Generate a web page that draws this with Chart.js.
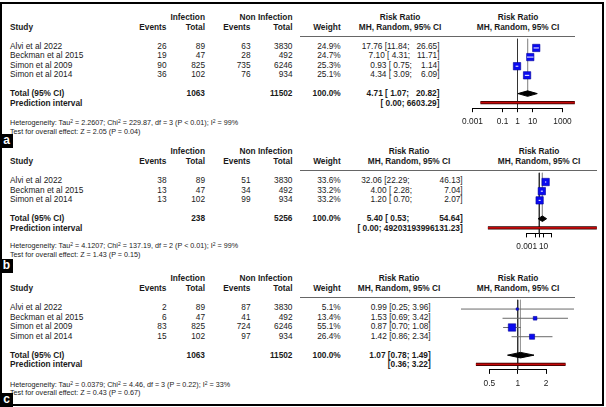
<!DOCTYPE html>
<html>
<head>
<meta charset="utf-8">
<script src="https://cdn.jsdelivr.net/npm/chart.js@4.4.1/dist/chart.umd.min.js"></script>
<style>
  html, body { margin: 0; padding: 0; background: #fff; }
  #page { position: relative; width: 606px; height: 407px; overflow: hidden;
          font-family: "Liberation Sans", Arial, sans-serif; color: #1a1a1a; }
  .t { position: absolute; white-space: pre; font-size: 8.3px; line-height: 10px; }
  .b { font-weight: bold; }
  .s { font-size: 7.2px; line-height: 8px; }
  .t sup { font-size: 5px; position: relative; top: -2px; vertical-align: baseline; line-height: 0; }
  .lab { position: absolute; left: 0; width: 13px; height: 14px; background: #000; color: #fff;
         font: bold 12px "Liberation Sans", Arial, sans-serif; text-align: center; line-height: 13px; }
  .frame { position: absolute; left: 0; top: 2px; width: 604px; height: 404px;
           border: 2px solid #000; box-sizing: border-box; }
  .hline { position: absolute; height: 1px; background: #666; }
</style>
</head>
<body>
<div id="page"><div class="frame"></div></div>
<script>
// panel a
const studyA = ["Alvi et al 2022", "Beckman et al 2015", "Simon et al 2009", "Simon et al 2014"];
const evInfA = [26, 19, 90, 36];
const totInfA = [89, 47, 825, 102];
const evNonA = [63, 28, 735, 76];
const totNonA = [3830, 492, 6246, 934];
const weightA = [24.9, 24.7, 25.3, 25.1];
const rrA = [17.76, 7.10, 0.93, 4.34];
const loA = [11.84, 4.31, 0.75, 3.09];
const hiA = [26.65, 11.71, 1.14, 6.09];
const pooledA = [4.71, 1.07, 20.82];   // estimate, lower, upper
const predA = [0.0034, 6603.29];
const sumTotA = [1063, 11502];
const hetA = [2.2607, 229.87, 3, "< 0.01", 99];  // tau2, chi2, df, p, I2
const testA = [2.05, "0.04"];
const ticksA = [0.001, 0.1, 1, 10, 1000];
const tickLabA = ["0.001", "0.1", "1", "10", "1000"];

// panel b
const studyB = ["Alvi et al 2022", "Beckman et al 2015", "Simon et al 2014"];
const evInfB = [38, 13, 13];
const totInfB = [89, 47, 102];
const evNonB = [51, 34, 99];
const totNonB = [3830, 492, 934];
const weightB = [33.6, 33.2, 33.2];
const rrB = [32.06, 4.00, 1.20];
const loB = [22.29, 2.28, 0.70];
const hiB = [46.13, 7.04, 2.07];
const pooledB = [5.40, 0.53, 54.64];
const predB = [5.8e-13, 49203193996131.23];
const sumTotB = [238, 5256];
const hetB = [4.1207, 137.19, 2, "< 0.01", 99];
const testB = [1.43, "0.15"];
const ticksB = [0.001, 0.1, 1, 10, 1000];
const tickLabB = ["0.001", "", "", "10", ""];

// panel c
const studyC = ["Alvi et al 2022", "Beckman et al 2015", "Simon et al 2009", "Simon et al 2014"];
const evInfC = [2, 6, 83, 15];
const totInfC = [89, 47, 825, 102];
const evNonC = [87, 41, 724, 97];
const totNonC = [3830, 492, 6246, 934];
const weightC = [5.1, 13.4, 55.1, 26.4];
const rrC = [0.99, 1.53, 0.87, 1.42];
const loC = [0.25, 0.69, 0.70, 0.86];
const hiC = [3.96, 3.42, 1.08, 2.34];
const pooledC = [1.07, 0.78, 1.49];
const predC = [0.36, 3.22];
const sumTotC = [1063, 11502];
const hetC = [0.0379, 4.46, 3, "= 0.22", 33];
const testC = [0.43, "0.67"];
const ticksC = [0.5, 1, 2];
const tickLabC = ["0.5", "1", "2"];

const page = document.getElementById("page");
const ROW = 9.5;
const FONT = '"Liberation Sans", Arial, sans-serif';

function txt(x, y, s, align, cls, html) {
  const d = document.createElement("div");
  d.className = "t " + (cls || "");
  if (html) d.innerHTML = s; else d.textContent = s;
  const tx = align === "right" ? "-100%" : align === "center" ? "-50%" : "0";
  d.style.left = x + "px";
  d.style.top = y + "px";
  d.style.transform = "translate(" + tx + ", -50%)";
  page.appendChild(d);
}

function pad(s, w) { return s.padStart(w, " "); }

function panel(p) {
  const n = p.study.length;
  const H = p.H;
  const f2 = v => v.toFixed(2);
  const wE = Math.max(...p.rr.concat(p.pooled[0]).map(v => f2(v).length));
  const wL = Math.max(...p.lo.concat(p.pooled[1], p.pred[0]).map(v => f2(v).length));
  const wH = Math.max(...p.hi.concat(p.pooled[2], p.pred[1]).map(v => f2(v).length));
  const ci = (e, l, h) => pad(f2(e), wE) + " [" + pad(f2(l), wL) + "; " + pad(f2(h), wH) + "]";

  // header
  txt(205, H - 19.5, "Infection", "right", "b");
  txt(292.5, H - 19.5, "Non Infection", "right", "b");
  txt(10, H - 9.5, "Study", "left", "b");
  txt(166.5, H - 9.5, "Events", "right", "b");
  txt(205, H - 9.5, "Total", "right", "b");
  txt(250.5, H - 9.5, "Events", "right", "b");
  txt(292.5, H - 9.5, "Total", "right", "b");
  txt(340.7, H - 9.5, "Weight", "right", "b");
  txt(p.rrC, H - 19.5, "Risk Ratio", "center", "b");
  txt(p.rrC, H - 9.5, "MH, Random, 95% CI", "center", "b");
  txt(p.plotC, H - 19.5, "Risk Ratio", "center", "b");
  txt(p.plotC, H - 9.5, "MH, Random, 95% CI", "center", "b");

  const hl = document.createElement("div");
  hl.className = "hline";
  hl.style.cssText += "left:" + p.lineL + "px;top:" + (H - 0.5) + "px;width:" + (p.lineR - p.lineL) + "px;";
  page.appendChild(hl);

  // study rows
  p.study.forEach((s, i) => {
    const y = H + ROW * (i + 1);
    txt(10, y, s, "left");
    txt(166.5, y, String(p.evInf[i]), "right");
    txt(205, y, String(p.totInf[i]), "right");
    txt(250.5, y, String(p.evNon[i]), "right");
    txt(292.5, y, String(p.totNon[i]), "right");
    txt(340.7, y, p.weight[i].toFixed(1) + "%", "right");
    txt(p.rrR, y, ci(p.rr[i], p.lo[i], p.hi[i]), "right");
  });

  const yT = H + ROW * (n + 2);
  txt(10, yT, "Total (95% CI)", "left", "b");
  txt(205, yT, String(p.sumTot[0]), "right", "b");
  txt(292.5, yT, String(p.sumTot[1]), "right", "b");
  txt(340.7, yT, "100.0%", "right", "b");
  txt(p.rrR, yT, ci(p.pooled[0], p.pooled[1], p.pooled[2]), "right", "b");

  const yP = H + ROW * (n + 3);
  txt(10, yP, "Prediction interval", "left", "b");
  txt(p.rrR, yP, "[" + pad(f2(p.pred[0]), wL) + "; " + pad(f2(p.pred[1]), wH) + "]", "right", "b");

  const h = p.het;
  txt(10, p.hetY, "Heterogeneity: Tau<sup>2</sup> = " + h[0].toFixed(4) + "; Chi<sup>2</sup> = " + h[1].toFixed(2) +
      ", df = " + h[2] + " (P " + h[3] + "); I<sup>2</sup> = " + h[4] + "%", "left", "s", true);
  txt(10, p.hetY + 8.5, "Test for overall effect: Z = " + p.test[0].toFixed(2) + " (P = " + p.test[1] + ")", "left", "s");

  const lab = document.createElement("div");
  lab.className = "lab";
  lab.style.top = p.labY + "px";
  lab.textContent = p.label;
  page.appendChild(lab);

  forest(p);
}

function forest(p) {
  const n = p.study.length;
  const H = p.H;
  const yMax = n + 3.6;
  const axisY = H + ROW * yMax;
  const top = Math.floor(H) - 3;
  const boxH = Math.ceil(axisY - top + 26);
  const box = document.createElement("div");
  box.style.cssText = "position:absolute;left:" + p.cx + "px;top:" + top + "px;width:" + p.cw + "px;height:" + boxH + "px;";
  const cv = document.createElement("canvas");
  box.appendChild(cv);
  page.appendChild(box);

  const maxW = Math.max(...p.weight);
  const inside = p.inside;
  const datasets = [];

  // squares, area by weight
  datasets.push({
    data: p.rr.map((v, i) => ({ x: v, y: i + 1 })),
    pointStyle: "rect",
    pointRadius: p.weight.map(w => 7.4 * Math.sqrt(w / maxW) / 1.414),
    backgroundColor: "#0a0af0",
    borderColor: "#00009a",
    borderWidth: 0.6,
    order: 1
  });

  // confidence intervals
  p.rr.forEach((v, i) => {
    datasets.push({
      data: [{ x: p.lo[i], y: i + 1 }, { x: p.hi[i], y: i + 1 }],
      showLine: true, pointRadius: 0,
      borderColor: inside ? "#ffffff" : "#6a6a6a",
      borderWidth: 1,
      order: inside ? 0 : 2
    });
  });

  // pooled diamond
  const yT = n + 2, dh = 0.3;
  datasets.push({
    data: [{ x: p.pooled[1], y: yT }, { x: p.pooled[0], y: yT - dh }, { x: p.pooled[2], y: yT },
           { x: p.pooled[0], y: yT + dh }, { x: p.pooled[1], y: yT }],
    showLine: true, pointRadius: 0, fill: "shape",
    backgroundColor: "#000", borderColor: "#000", borderWidth: 1,
    order: 1
  });

  // prediction interval bar: dark outline with red core
  const yP = n + 3;
  const predLine = [{ x: p.pred[0], y: yP }, { x: p.pred[1], y: yP }];
  datasets.push({
    data: predLine, showLine: true, pointRadius: 0,
    borderColor: "#2a0000", borderWidth: 3.2, borderCapStyle: "butt", order: 3.5
  });
  datasets.push({
    data: predLine, showLine: true, pointRadius: 0,
    borderColor: "#c40808", borderWidth: 1.8, borderCapStyle: "butt", order: 3
  });

  // line of no effect and pooled estimate line
  datasets.push({
    data: [{ x: 1, y: 0 }, { x: 1, y: yMax }],
    showLine: true, pointRadius: 0, borderColor: "#333", borderWidth: 1, order: 4
  });
  datasets.push({
    data: [{ x: p.pooled[0], y: 0 }, { x: p.pooled[0], y: yT }],
    showLine: true, pointRadius: 0, borderColor: "#999", borderWidth: 1, order: 5
  });

  datasets.forEach(d => { d.clip = false; d.tension = 0; });

  const x0 = p.x0, x1 = p.x1;
  new Chart(cv, {
    type: "scatter",
    data: { datasets: datasets },
    options: {
      responsive: true,
      maintainAspectRatio: false,
      animation: false,
      events: [],
      layout: {
        padding: { left: x0 - p.cx, right: p.cx + p.cw - x1, top: H - top, bottom: boxH - (axisY - top) - 22 }
      },
      plugins: { legend: { display: false }, tooltip: { enabled: false } },
      scales: {
        x: {
          type: "logarithmic",
          min: p.ticks[0],
          max: p.ticks[p.ticks.length - 1],
          afterBuildTicks: s => { s.ticks = p.ticks.map(v => ({ value: v })); },
          afterFit: s => { s.height = 22; },
          ticks: {
            autoSkip: false, maxRotation: 0, padding: 4.5, color: "#1a1a1a",
            font: { family: FONT, size: 8.3 },
            callback: (v, i) => p.tickLab[i]
          },
          grid: { drawOnChartArea: false, drawTicks: true, tickLength: 4, color: "#000", lineWidth: 1 },
          border: { display: true, color: "#000", width: 1 }
        },
        y: { type: "linear", min: 0, max: yMax, reverse: true, display: false }
      }
    }
  });
}

panel({
  label: "a", labY: 134, H: 36, hetY: 123.3, lineL: 300, lineR: 575, rrR: 439.5, rrC: 400, plotC: 518,
  study: studyA, evInf: evInfA, totInf: totInfA, evNon: evNonA, totNon: totNonA, weight: weightA,
  rr: rrA, lo: loA, hi: hiA, pooled: pooledA, pred: predA, sumTot: sumTotA, het: hetA, test: testA,
  ticks: ticksA, tickLab: tickLabA, inside: true, cx: 440, cw: 160, x0: 472.5, x1: 562.5
});
panel({
  label: "b", labY: 259, H: 170.7, hetY: 246.3, lineL: 300, lineR: 597, rrR: 462.7, rrC: 409, plotC: 539,
  study: studyB, evInf: evInfB, totInf: totInfB, evNon: evNonB, totNon: totNonB, weight: weightB,
  rr: rrB, lo: loB, hi: hiB, pooled: pooledB, pred: predB, sumTot: sumTotB, het: hetB, test: testB,
  ticks: ticksB, tickLab: tickLabB, inside: true, cx: 440, cw: 166, x0: 526.7, x1: 551.9
});
panel({
  label: "c", labY: 393, H: 297.7, hetY: 384.8, lineL: 300, lineR: 575, rrR: 430.7, rrC: 399, plotC: 518,
  study: studyC, evInf: evInfC, totInf: totInfC, evNon: evNonC, totNon: totNonC, weight: weightC,
  rr: rrC, lo: loC, hi: hiC, pooled: pooledC, pred: predC, sumTot: sumTotC, het: hetC, test: testC,
  ticks: ticksC, tickLab: tickLabC, inside: false, cx: 440, cw: 160, x0: 489.35, x1: 546.05
});
</script>
</body>
</html>
